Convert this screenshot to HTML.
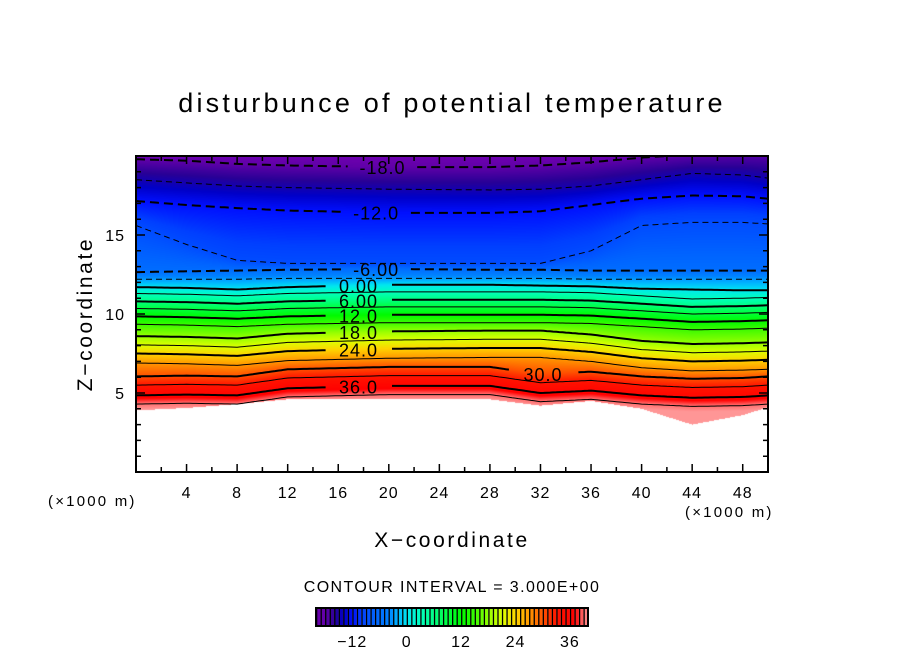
<!DOCTYPE html>
<html><head><meta charset="utf-8"><style>
html,body{margin:0;padding:0;background:#fff;}
#wrap{position:relative;width:904px;height:654px;overflow:hidden;font-family:"Liberation Sans",sans-serif;}
canvas{position:absolute;left:136px;top:156px;}
svg{position:absolute;left:0;top:0;}
</style></head><body>
<div id="wrap">
<canvas id="field" width="632" height="316"></canvas>
<svg id="svg" width="904" height="654">
<text x="452" y="112" font-size="27" letter-spacing="3.2" text-anchor="middle">disturbunce of potential temperature</text>
<text x="452" y="547" font-size="21" letter-spacing="2.6" text-anchor="middle">X−coordinate</text>
<text transform="translate(92,314) rotate(-90)" font-size="21" letter-spacing="2.6" text-anchor="middle">Z−coordinate</text>
<text x="48" y="506" font-size="15" letter-spacing="2.2">(×1000 m)</text>
<text x="685" y="517" font-size="15" letter-spacing="2.2">(×1000 m)</text>
<text x="452" y="592" font-size="16" letter-spacing="1.4" text-anchor="middle">CONTOUR INTERVAL = 3.000E+00</text>
<g id="lines"></g>
<g id="labels"></g>
<g id="axes"></g>
<g id="cbar"></g>
</svg>
</div>
<script>
const xs = [0,4,8,12,20,28,32,36,40,44,48,50];
const levels = [-18,-15,-12,-9,-6,-3,0,3,6,9,12,15,18,21,24,27,30,33,36,39];
const hM18 = [19.8,19.7,19.5,19.4,19.3,19.3,19.4,19.6,19.9,20.1,20.2,20.2];
const hM15 = [18.5,18.3,18.1,18.0,17.9,17.85,17.9,18.1,18.5,18.9,18.8,18.6];
const hM12 = [17.15,16.9,16.7,16.55,16.4,16.4,16.5,16.9,17.3,17.5,17.45,17.3];
const hM9 = [15.6,14.4,13.4,13.2,13.2,13.2,13.2,14.0,15.6,15.8,15.8,15.7];
const hM6 = [12.65,12.7,12.75,12.8,12.85,12.8,12.8,12.75,12.75,12.75,12.75,12.75];
const hM3 = [12.2,12.2,12.2,12.25,12.25,12.25,12.25,12.2,12.2,12.2,12.2,12.2];
const h0 = [11.7,11.65,11.55,11.7,11.85,11.85,11.8,11.75,11.6,11.55,11.5,11.5];
const h3 = [11.3,11.25,11.15,11.3,11.4,11.4,11.4,11.35,11.15,10.95,11.0,11.05];
const h6 = [10.8,10.75,10.65,10.8,10.9,10.9,10.9,10.85,10.65,10.45,10.5,10.55];
const h9 = [10.35,10.3,10.2,10.35,10.45,10.45,10.45,10.4,10.2,10.0,10.05,10.1];
const h12 = [9.85,9.8,9.7,9.85,9.95,9.95,9.95,9.9,9.7,9.5,9.55,9.6];
const h15 = [9.35,9.3,9.2,9.35,9.45,9.45,9.45,9.4,9.2,9.0,9.05,9.1];
const h18 = [8.6,8.55,8.45,8.75,8.9,8.95,8.95,8.7,8.3,8.1,8.15,8.2];
const h21 = [8.05,8.0,7.9,8.2,8.35,8.4,8.4,8.15,7.75,7.55,7.6,7.65];
const h24 = [7.5,7.45,7.35,7.65,7.8,7.85,7.85,7.6,7.2,7.0,7.05,7.1];
const h27 = [6.9,6.85,6.75,7.05,7.2,7.25,7.25,7.0,6.6,6.4,6.45,6.5];
const h30 = [6.05,6.1,6.05,6.5,6.65,6.65,6.2,6.35,6.05,5.9,5.95,6.05];
const h33 = [5.5,5.55,5.5,5.95,6.1,6.1,5.65,5.8,5.5,5.35,5.4,5.5];
const h36 = [4.85,4.9,4.85,5.3,5.45,5.45,5.0,5.15,4.85,4.7,4.75,4.85];
const h39 = [4.3,4.35,4.3,4.75,4.9,4.9,4.45,4.6,4.3,4.15,4.2,4.3];
const terrain = [3.9,4.05,4.3,4.6,4.6,4.6,4.2,4.5,4.0,3.0,3.6,4.1];
const heights = [hM18,hM15,hM12,hM9,hM6,hM3,h0,h3,h6,h9,h12,h15,h18,h21,h24,h27,h30,h33,h36,h39];
const labelLevels = [-18,-12,-6,0,6,12,18,24,30,36];
const labelX = [19.5,19,19,17.6,17.6,17.6,17.6,17.6,32.2,17.6];
const labelText = ['-18.0','-12.0','-6.00','0.00','6.00','12.0','18.0','24.0','30.0','36.0'];
const xTicks = [4,8,12,16,20,24,28,32,36,40,44,48];
const yTicks = [5,10,15];
const cbTicks = [-12,0,12,24,36];

const PL=136,PT=156,PW=632,PH=316,XMAX=50,ZMAX=20;
const sx = x => PL + x/XMAX*PW;
const sz = z => PT + PH - z/ZMAX*PH;
const NS='http://www.w3.org/2000/svg';
function interpX(arr,x){
  for(let i=0;i<xs.length-1;i++){ if(x<=xs[i+1]){const t=(x-xs[i])/(xs[i+1]-xs[i]);return arr[i]+(arr[i+1]-arr[i])*t;} }
  return arr[arr.length-1];
}
const stops=[[-21,[112,0,176]],[-18,[96,0,168]],[-16,[40,0,150]],[-14,[0,0,200]],[-12,[0,16,255]],[-10,[0,64,255]],[-7,[0,100,255]],[-4,[0,130,255]],[-2,[0,180,255]],[0,[0,230,240]],[3,[0,255,190]],[6,[0,255,130]],[9,[0,255,60]],[12,[0,250,0]],[15,[60,250,0]],[18,[150,255,0]],[21,[220,255,0]],[24,[255,210,0]],[27,[255,150,0]],[30,[255,80,0]],[33,[255,20,0]],[37,[255,0,0]],[38.5,[255,90,90]],[40,[255,150,150]]];
function cmap(v){
  if(v<=stops[0][0])return stops[0][1];
  for(let i=0;i<stops.length-1;i++){ if(v<=stops[i+1][0]){const t=(v-stops[i][0])/(stops[i+1][0]-stops[i][0]);const a=stops[i][1],b=stops[i+1][1];return [a[0]+(b[0]-a[0])*t,a[1]+(b[1]-a[1])*t,a[2]+(b[2]-a[2])*t];} }
  return stops[stops.length-1][1];
}
const ctx=document.getElementById('field').getContext('2d');
const img=ctx.createImageData(PW,PH);
for(let px=0;px<PW;px++){
  const x=(px+0.5)/PW*XMAX;
  const col=heights.map(h=>interpX(h,x));
  const tz=interpX(terrain,x);
  for(let py=0;py<PH;py++){
    const z=ZMAX-(py+0.5)/PH*ZMAX;
    let r=255,g=255,b=255;
    if(z>=tz){
      let v;
      if(z>=col[0]) v=levels[0]-(z-col[0])/(ZMAX-col[0]+0.01)*3;
      else if(z<=col[col.length-1]) v=Math.min(41,levels[levels.length-1]+(col[col.length-1]-z)*3);
      else { for(let k=0;k<col.length-1;k++){ if(z<=col[k]&&z>=col[k+1]){v=levels[k]+(col[k]-z)/(col[k]-col[k+1])*3;break;} } }
      [r,g,b]=cmap(v);
    }
    const o=(py*PW+px)*4; img.data[o]=r;img.data[o+1]=g;img.data[o+2]=b;img.data[o+3]=255;
  }
}
ctx.putImageData(img,0,0);
const gL=document.getElementById('lines'), gT=document.getElementById('labels');
levels.forEach((lv,k)=>{
  const li=labelLevels.indexOf(lv);
  let d='',pen=false;
  for(let i=0;i<=200;i++){
    const x=i/200*XMAX; const z=interpX(heights[k],x);
    const gap = li>=0 && Math.abs(x-labelX[li])<2.6;
    if(gap||z>ZMAX){pen=false;continue;}
    d+=(pen?'L':'M')+sx(x).toFixed(1)+' '+sz(z).toFixed(1);pen=true;
  }
  const p=document.createElementNS(NS,'path');
  
  
  p.setAttribute('d',d);p.setAttribute('fill','none');p.setAttribute('stroke','#000');
  p.setAttribute('stroke-width',lv%6===0?2:1);
  if(lv<0)p.setAttribute('stroke-dasharray',lv%6===0?'9 5':'6 4');
  gL.appendChild(p);
  if(li>=0){
    const t=document.createElementNS(NS,'text');
    
    
    t.setAttribute('x',sx(labelX[li]));t.setAttribute('y',sz(interpX(heights[k],labelX[li]))+7);
    t.setAttribute('font-size','18');t.setAttribute('letter-spacing','1');t.setAttribute('text-anchor','middle');
    t.textContent=labelText[li];gT.appendChild(t);
  }
});
const gA=document.getElementById('axes');
function add(parent,tag,attrs,name){const e=document.createElementNS(NS,tag);for(const a in attrs)e.setAttribute(a,attrs[a]);parent.appendChild(e);return e;}
let td='';
for(let x=2;x<XMAX;x+=2){const L=(x%4===0)?8:5;td+=`M${sx(x)} ${PT+PH}v${-L}M${sx(x)} ${PT}v${L}`;}
for(let z=1;z<ZMAX;z++){const L=(z%5===0)?9:5;td+=`M${PL} ${sz(z)}h${L}M${PL+PW} ${sz(z)}h${-L}`;}
add(gA,'path',{d:td,stroke:'#000','stroke-width':1.5,fill:'none'},'axis-ticks');
add(gA,'rect',{x:PL,y:PT,width:PW,height:PH,fill:'none',stroke:'#000','stroke-width':2},'plot-frame');
xTicks.forEach(v=>{const t=add(gA,'text',{x:sx(v),y:498,'font-size':16,'letter-spacing':1,'text-anchor':'middle'},'x-tick-label');t.textContent=v;});
yTicks.forEach(v=>{const t=add(gA,'text',{x:125,y:sz(v)+6,'font-size':16,'letter-spacing':1,'text-anchor':'end'},'y-tick-label');t.textContent=v;});
const gC=document.getElementById('cbar');
const CB0=-20,CB1=40,CL=316,CR=588,CT=608,CH=18;
const cx=v=>CL+(v-CB0)/(CB1-CB0)*(CR-CL);
for(let v=CB0;v<CB1;v++){
  const c=cmap(v+0.5);
  add(gC,'rect',{x:cx(v),y:CT,width:cx(v+1)-cx(v),height:CH,fill:`rgb(${c.map(Math.round).join(',')})`},'colorbar-swatch');
  add(gC,'rect',{x:cx(v),y:CT,width:1.3,height:CH,fill:'#000'},'colorbar-separator');
}
add(gC,'rect',{x:CL,y:CT,width:CR-CL,height:CH,fill:'none',stroke:'#000','stroke-width':2},'colorbar-frame');
cbTicks.forEach(v=>{const t=add(gC,'text',{x:cx(v),y:647,'font-size':16,'letter-spacing':1,'text-anchor':'middle'},'colorbar-tick-label');t.textContent=(v<0?'−':'')+Math.abs(v);});
</script>
</body></html>
